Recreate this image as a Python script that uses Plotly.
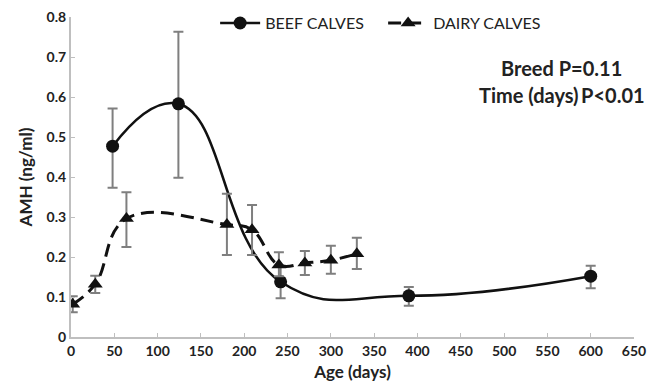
import plotly.graph_objects as go

beef_x = [48, 124, 242, 390, 600]
beef_y = [0.477, 0.583, 0.138, 0.103, 0.152]
beef_hi = [0.571, 0.763, 0.178, 0.125, 0.178]
beef_lo = [0.373, 0.398, 0.097, 0.078, 0.122]

dairy_x = [2, 28, 64, 180, 209, 240, 270, 300, 330]
dairy_y = [0.082, 0.132, 0.296, 0.281, 0.268, 0.180, 0.185, 0.192, 0.208]
dairy_hi = [0.102, 0.153, 0.362, 0.358, 0.330, 0.212, 0.215, 0.228, 0.248]
dairy_lo = [0.062, 0.110, 0.225, 0.205, 0.205, 0.152, 0.155, 0.158, 0.170]

x_ticks = list(range(0, 651, 50))
y_ticks = [0, 0.1, 0.2, 0.3, 0.4, 0.5, 0.6, 0.7, 0.8]
y_ticklabels = ["0", "0.1", "0.2", "0.3", "0.4", "0.5", "0.6", "0.7", "0.8"]

FONT = "Lato"
GRAY = "#7f7f7f"

fig = go.Figure()

fig.add_trace(go.Scatter(
    x=beef_x, y=beef_y, name="BEEF CALVES", mode="lines+markers",
    line=dict(color="#111111", width=2.5, shape="spline", smoothing=1.3),
    marker=dict(symbol="circle", size=13, color="#111111"),
    error_y=dict(type="data", symmetric=False,
                 array=[h - v for h, v in zip(beef_hi, beef_y)],
                 arrayminus=[v - l for l, v in zip(beef_lo, beef_y)],
                 color=GRAY, thickness=2, width=5),
))

fig.add_trace(go.Scatter(
    x=dairy_x, y=dairy_y, name="DAIRY CALVES", mode="lines+markers",
    line=dict(color="#111111", width=3, shape="spline", smoothing=1.2, dash="13px,7px"),
    marker=dict(symbol="triangle-up", size=13, color="#111111"),
    error_y=dict(type="data", symmetric=False,
                 array=[h - v for h, v in zip(dairy_hi, dairy_y)],
                 arrayminus=[v - l for l, v in zip(dairy_lo, dairy_y)],
                 color=GRAY, thickness=2, width=5),
))

fig.add_annotation(x=0.872, y=0.84, xref="paper", yref="paper", xanchor="center", yanchor="middle",
                   text="<b>Breed P=0.11</b>", showarrow=False,
                   font=dict(family=FONT, size=20, color="#222222"))
fig.add_annotation(x=0.872, y=0.756, xref="paper", yref="paper", xanchor="center", yanchor="middle",
                   text="<b>Time (days)\u2009P<0.01</b>", showarrow=False,
                   font=dict(family=FONT, size=20, color="#222222"))

fig.update_layout(
    width=648, height=385,
    margin=dict(l=71, r=14, t=17, b=48, autoexpand=False),
    paper_bgcolor="white", plot_bgcolor="white",
    font=dict(family=FONT, color="#222222"),
    showlegend=True,
    legend=dict(orientation="h", x=0.256, y=0.981, xanchor="left", yanchor="middle",
                font=dict(family=FONT, size=16, color="#222222"),
                itemwidth=40, entrywidth=113, bgcolor="rgba(0,0,0,0)"),
    xaxis=dict(range=[0, 650], tickvals=x_ticks, ticks="inside", ticklen=4,
               tickcolor="#bfbfbf", showline=True, linecolor="#bfbfbf", linewidth=2,
               showgrid=False, zeroline=False, automargin=False, ticklabeloverflow="allow",
               tickfont=dict(family=FONT, size=14, color="#222222", weight="bold"),
               title=dict(text="<b>Age (days)</b>", font=dict(family=FONT, size=17), standoff=8)),
    yaxis=dict(range=[0, 0.8], tickvals=y_ticks, ticktext=y_ticklabels, ticks="inside", ticklen=4,
               tickcolor="#bfbfbf", showline=True, linecolor="#bfbfbf", linewidth=2,
               showgrid=False, zeroline=False, automargin=False, ticklabeloverflow="allow",
               tickfont=dict(family=FONT, size=14, color="#222222", weight="bold"),
               title=dict(text="<b>AMH (ng/ml)</b>", font=dict(family=FONT, size=17), standoff=10)),
)

fig.write_html("out.html", config={"displayModeBar": False},
               post_script="document.body.style.margin='0';")
